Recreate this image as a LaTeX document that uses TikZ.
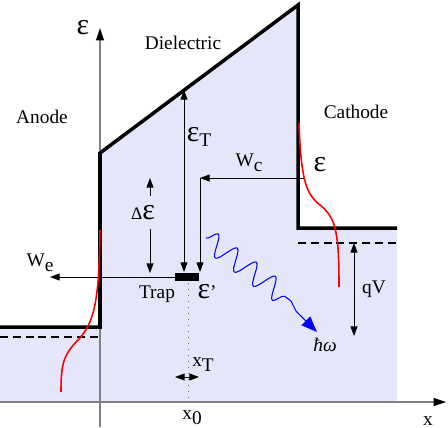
\documentclass[tikz,border=0pt]{standalone}
\usepackage{fontspec}
\setmainfont{Liberation Serif}
\usepackage{xcolor}
\usepackage{tikz}
\usetikzlibrary{arrows.meta,positioning,calc,decorations.pathmorphing}

\definecolor{dielfill}{RGB}{230,230,250}
\newcommand{\eps}{{\fontsize{17}{17}\selectfont ε}}
\newcommand{\lowr}[1]{\raisebox{-2.8pt}{#1}}

\begin{document}
\begin{tikzpicture}[
    x=0.02cm, y=-0.02cm,
    lbl/.style={inner sep=0pt, font=\fontsize{11}{13}\selectfont},
    axis/.style={draw=black!50, line width=0.6pt, -{Triangle[length=7pt,width=4.5pt,color=black]}},
    band/.style={line width=2pt},
    fermi/.style={dash pattern=on 4.5pt off 2.8pt, line width=0.7pt},
    dist/.style={red, line width=0.9pt},
    dim/.style={line width=0.5pt, >={Triangle[length=5.5pt,width=4pt]}},
    photon/.style={blue, line width=0.6pt, decorate, decoration={snake, segment length=13.5pt, amplitude=6pt}}
]
    \useasboundingbox (0,0) rectangle (448,427);

    % regions
    \fill[dielfill] (0,327) -- (100,327) -- (100,153) -- (298,5) -- (298,228)
        -- (397,228) -- (397,402) -- (0,402) -- cycle;

    % axes
    \coordinate (yfoot) at (100,427);
    \coordinate (ytip) at (100,28);
    \coordinate (xfoot) at (0,402);
    \coordinate (xtip) at (446,402);
    \draw[axis] (yfoot) -- (ytip);
    \draw[axis] (xfoot) -- (xtip);

    % band edges and Fermi levels
    \draw[band] (0,327) -- (100,327) -- (100,153) -- (298,5) -- (298,228) -- (397,228);
    \draw[fermi] (0,337) -- (100,337);
    \draw[fermi] (298,243) -- (397,243);

    % trap level
    \coordinate (trapL) at (175,277);
    \coordinate (trapR) at (199,277);
    \draw[line width=4pt] (trapL) -- (trapR);
    \draw[black!60, dash pattern=on 0.8pt off 2.6pt] (188,283) -- (188,402);

    % energies
    \coordinate (etTop) at (184,90);
    \coordinate (etBot) at (184,272);
    \draw[dim, <->] (etBot) -- (etTop);

    \coordinate (dEtop) at (150,178);
    \coordinate (dEup) at (150,196);
    \coordinate (dEdn) at (150,229);
    \coordinate (dEbot) at (150,273);
    \draw[dim, ->] (dEup) -- (dEtop);
    \draw[dim, ->] (dEdn) -- (dEbot);

    \coordinate (wcStart) at (304,178);
    \coordinate (wcCorner) at (200,178);
    \coordinate (wcEnd) at (200,272);
    \draw[dim, ->] (wcStart) -- (wcCorner);
    \draw[dim, ->] (wcCorner) -- (wcEnd);

    \coordinate (weEnd) at (50,277);
    \draw[dim, ->] (trapL) -- (weEnd);

    \coordinate (xtL) at (175,377);
    \coordinate (xtR) at (199,377);
    \draw[dim, <->] (xtL) -- (xtR);

    \coordinate (qvTop) at (354,243);
    \coordinate (qvBot) at (354,336);
    \draw[dim, <->] (qvTop) -- (qvBot);

    % occupation curves
    \draw[dist] (100,230) .. controls (99,300) and (95,322) .. (78,340)
        .. controls (63,355) and (61,365) .. (61,392);
    \draw[dist] (299,123) .. controls (301,180) and (306,194) .. (320,205)
        .. controls (336,218) and (339,232) .. (339,287);

    % photon
    \coordinate (phS) at (206,238);
    \coordinate (phM) at (291,301);
    \coordinate (phK) at (296,311);
    \coordinate (phE) at (317,332);
    \draw[photon] (phS) -- (phM);
    \draw[blue, line width=0.6pt, -{Triangle[length=9pt,width=7pt]}] (phM) -- (phK) -- (phE);

    % labels
    \node[lbl] (epsAx) at (83,28) {\eps};
    \node[lbl] (diel) at (183,43) {Dielectric};
    \node[lbl] (anode) at (42,117) {Anode};
    \node[lbl] (cath) at (356,112) {Cathode};
    \node[lbl] (epsT) at (199,137) {\eps\lowr{T}};
    \node[lbl] (wc) at (249,163) {W\lowr{c}};
    \node[lbl] (epsC) at (320,165) {\eps};
    \node[lbl] (dE) at (143,213) {{\fontsize{10}{10}\selectfont Δ}\eps};
    \node[lbl] (we) at (40,263) {W\lowr{e}};
    \node[lbl] (trap) at (157,294) {Trap};
    \node[lbl] (epsP) at (207,292) {\eps'};
    \node[lbl] (qv) at (374,289) {qV};
    \node[lbl] (hw) at (325,345) {\textit{ħω}};
    \node[lbl] (xt) at (203,365) {x\lowr{T}};
    \node[lbl] (x0) at (192,418) {x\lowr{0}};
    \node[lbl] (xlab) at (428,421) {x};
\end{tikzpicture}
\end{document}
